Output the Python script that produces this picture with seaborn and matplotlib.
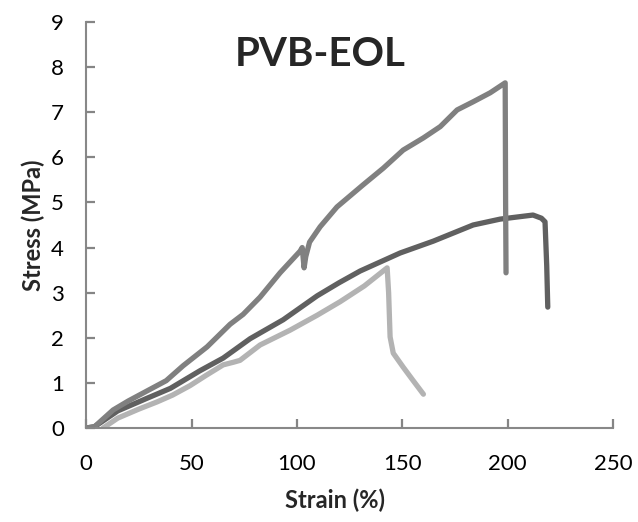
import matplotlib
matplotlib.use("Agg")
import matplotlib.pyplot as plt
import seaborn as sns
import pandas as pd

# Tensile curves of three PVB-EOL specimens: strain (%) vs. stress (MPa)
strain_a = [0, 4, 12.8, 20, 30.4, 38, 46, 57.4, 68.3, 74.5, 82.5, 92, 101.5, 102.5,
            103.4, 104.2, 106, 111, 119, 131.4, 141, 150.4, 160, 168, 176, 183.6, 191.7,
            198.8, 199, 199.2]
stress_a = [0, 0.03, 0.4, 0.6, 0.86, 1.05, 1.38, 1.8, 2.3, 2.52, 2.9, 3.44, 3.92, 4.0,
            3.55, 3.8, 4.12, 4.46, 4.9, 5.39, 5.76, 6.16, 6.43, 6.68, 7.05, 7.23, 7.43,
            7.65, 5.0, 3.44]

strain_b = [0, 4, 15, 28.9, 40, 54, 65, 77.8, 93.5, 109.6, 120, 130, 149, 164.6, 183.6,
            196.4, 205, 212, 216, 217.7, 218.5, 219]
stress_b = [0, 0.03, 0.38, 0.66, 0.88, 1.27, 1.55, 1.98, 2.4, 2.93, 3.22, 3.48, 3.88,
            4.14, 4.5, 4.63, 4.68, 4.72, 4.65, 4.57, 3.6, 2.68]

strain_c = [8, 15, 25, 33.7, 41, 49.3, 57, 65, 70, 73, 82.5, 96.8, 109.6, 120.5, 132,
            142.8, 143.5, 144.2, 145.7, 150.4, 155, 160]
stress_c = [0, 0.22, 0.42, 0.58, 0.73, 0.94, 1.17, 1.4, 1.46, 1.5, 1.84, 2.17, 2.5,
            2.8, 3.15, 3.55, 3.0, 2.02, 1.66, 1.35, 1.06, 0.75]

x_ticks = [0, 50, 100, 150, 200, 250]
y_ticks = [0, 1, 2, 3, 4, 5, 6, 7, 8, 9]

sns.set_style("white")
plt.rcParams["font.family"] = ["Lato", "DejaVu Sans"]
plt.rcParams.update({"xtick.bottom": True, "ytick.left": True, "axes.axisbelow": False})

fig = plt.figure(figsize=(6.38, 5.22), dpi=100)
ax = fig.add_axes([0.135, 0.180, 0.826, 0.778])

curves = [
    (strain_b, stress_b, "#606060"),
    (strain_a, stress_a, "#808080"),
    (strain_c, stress_c, "#b3b3b3"),
]
for xs, ys, col in curves:
    df = pd.DataFrame({"strain": xs, "stress": ys})
    sns.lineplot(data=df, x="strain", y="stress", sort=False, estimator=None,
                 color=col, linewidth=3.8, ax=ax, solid_capstyle="round",
                 solid_joinstyle="round")

ax.set_xlim(0, 250)
ax.set_ylim(0, 9)
ax.set_xticks(x_ticks)
ax.set_yticks(y_ticks)
ax.tick_params(axis="both", which="major", bottom=True, left=True, direction="in",
               length=6.5, width=1.6, color="#858585", labelcolor="black", labelsize=16)
ax.tick_params(axis="x", pad=19)
ax.tick_params(axis="y", pad=16)

for side in ["top", "right"]:
    ax.spines[side].set_visible(False)
for side in ["left", "bottom"]:
    ax.spines[side].set_color("#888888")
    ax.spines[side].set_linewidth(1.5)

ax.set_xlabel("Strain (%)", fontsize=17, fontweight="bold")
ax.set_ylabel("Stress (MPa)", fontsize=17, fontweight="bold", labelpad=4)
ax.xaxis.set_label_coords(0.4715, -0.150)
ax.text(0.445, 0.965, "PVB-EOL", transform=ax.transAxes, ha="center", va="top",
        fontsize=29, fontweight="bold")

fig.savefig("out.png", dpi=100)
